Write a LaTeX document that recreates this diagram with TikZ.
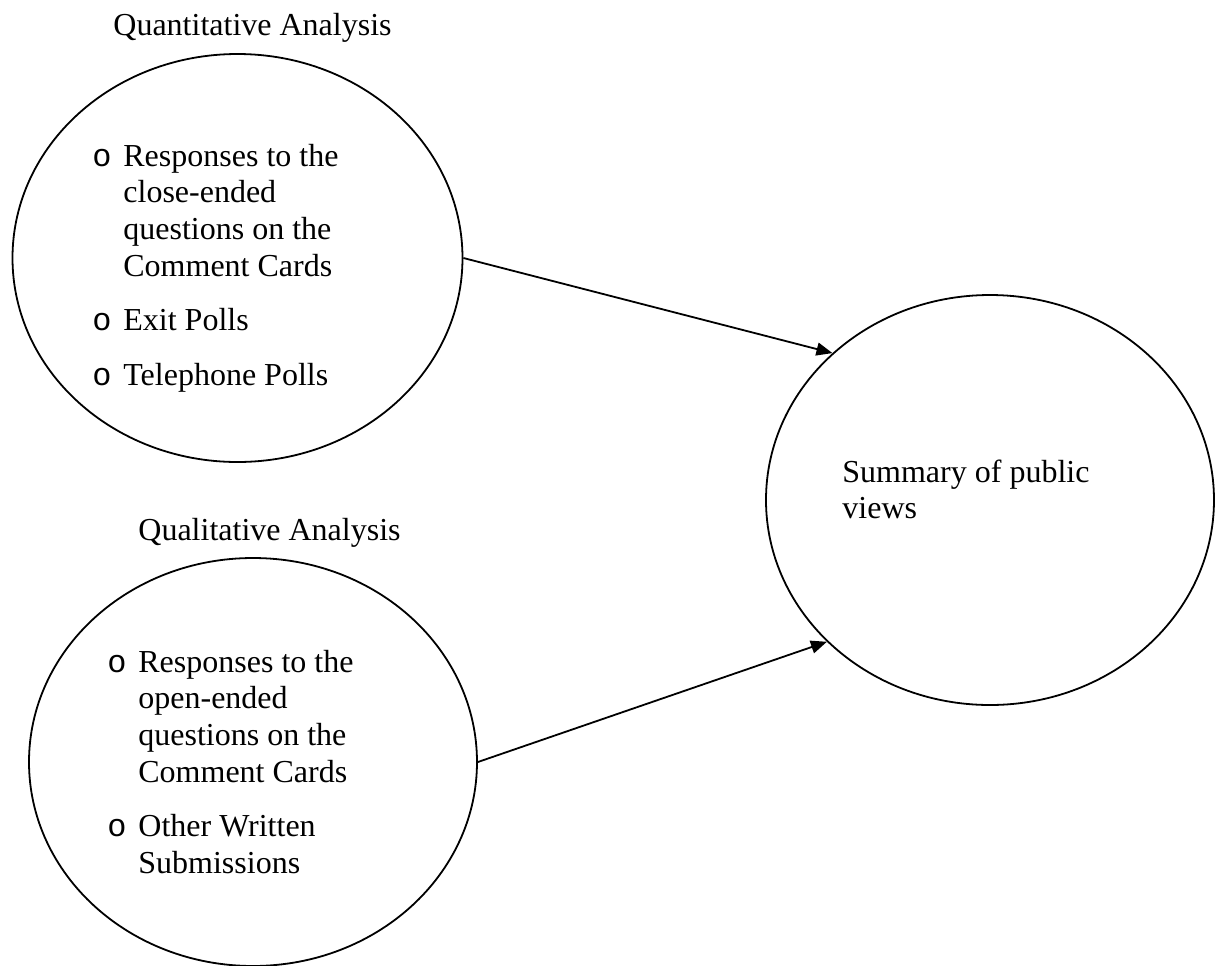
\documentclass[tikz,border=0pt]{standalone}
\usepackage{fontspec}
\setmainfont{Liberation Serif}
\setmonofont{Liberation Mono}
\usetikzlibrary{arrows.meta,shapes.geometric}
\newcommand{\bul}{\makebox[15.5pt][l]{\ttfamily o}}

\begin{document}
\begin{tikzpicture}[x=0.5pt, y=-0.5pt,
  oval/.style={draw, ellipse, line width=0.9pt, inner sep=0pt, minimum width=224pt, minimum height=204pt},
  note/.style={inner sep=0pt, anchor=base west, font=\fontsize{16pt}{18.35pt}\selectfont},
  arr/.style={-{Triangle[length=8pt, width=6.5pt]}, line width=0.9pt}
]
\useasboundingbox (0,0) rectangle (1222,965);

\node[oval, minimum width=225pt] (quant) at (237.5,258) {};
\node[oval] (qual) at (253,762) {};
\node[oval, minimum height=205pt] (sum) at (990,500) {};

\node[note] (quantlbl) at (113,35) {Quantitative Analysis};
\node[note] (quallbl) at (138,540) {Qualitative Analysis};

\node[note] (quanttxt) at (92,166) {\begin{tabular}[t]{@{}l@{}l@{}}
  \bul & Responses to the\\
       & close-ended\\
       & questions on the\\
       & Comment Cards\\[9pt]
  \bul & Exit Polls\\[9pt]
  \bul & Telephone Polls
\end{tabular}};

\node[note] (qualtxt) at (107,672) {\begin{tabular}[t]{@{}l@{}l@{}}
  \bul & Responses to the\\
       & open-ended\\
       & questions on the\\
       & Comment Cards\\[9pt]
  \bul & Other Written\\
       & Submissions
\end{tabular}};

\node[note] (sumtxt) at (842,482) {\begin{tabular}[t]{@{}l@{}}Summary of public\\views\end{tabular}};

\draw[arr] (quant.east) -- (sum.137.6);
\draw[arr] (qual.east) -- (sum.221.8);

\end{tikzpicture}
\end{document}
